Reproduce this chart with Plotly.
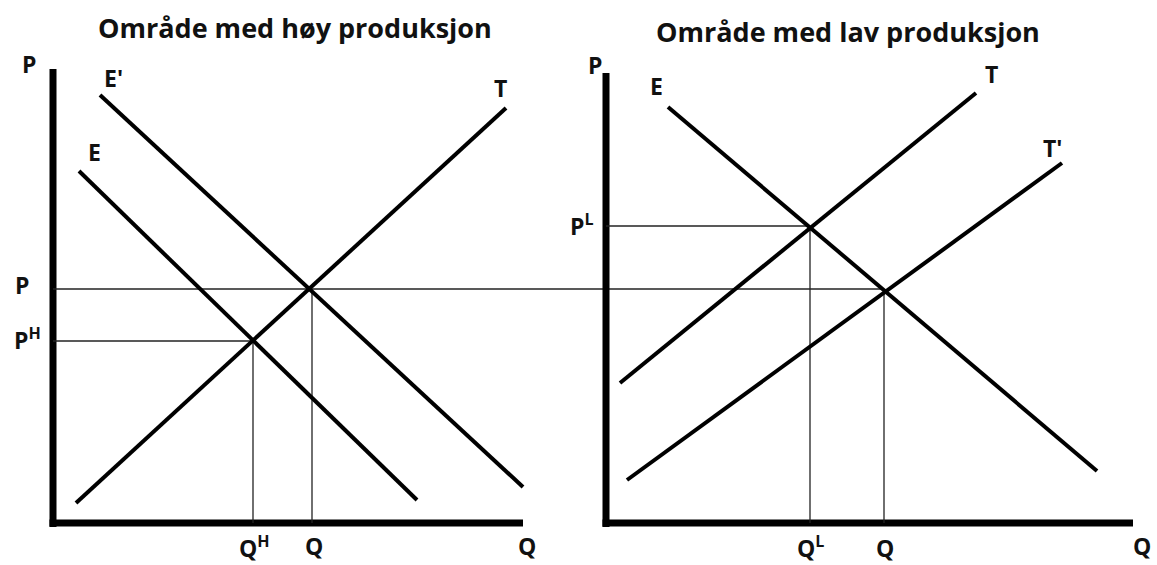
import plotly.graph_objects as go

# ---- data (units: Q and P measured from each panel's origin) ----
# Left panel: "Område med høy produksjon"
left_E_q = [26, 364]
left_E_p = [352, 23]
left_E2_q = [47, 470]        # E'
left_E2_p = [428, 36]
left_T_q = [23, 453]
left_T_p = [20, 415]
left_eq_H = (200, 182)       # (Q^H, P^H)
left_eq = (259, 234)         # (Q, P)

# Right panel: "Område med lav produksjon"
right_E_q = [62, 491]
right_E_p = [416, 52]
right_T_q = [14, 370]
right_T_p = [140, 430]
right_T2_q = [21, 456]       # T'
right_T2_p = [43, 360]
right_eq_L = (204, 297)      # (Q^L, P^L)
right_eq = (278, 234)        # (Q, P)

titles = ["Område med høy produksjon", "Område med lav produksjon"]

# layout helpers (figure pixel geometry)
W, H = 1157, 565
left_origin = (53, 523)
right_origin = (606, 523)

fig = go.Figure()

def line(q, p, width, axis="x", color="black"):
    fig.add_trace(go.Scatter(x=q, y=p, mode="lines", xaxis=axis, yaxis="y",
                             line=dict(color=color, width=width),
                             hoverinfo="skip", showlegend=False))

# axes (thick)
line([0, 0], [-4, 454], 7, "x")
line([-3.5, 470], [0, 0], 7, "x")
line([0, 0], [-4, 450], 7, "x2")
line([-3.5, 527], [0, 0], 7, "x2")

# guide lines (thin)
right_eq_in_left = right_eq[0] + (right_origin[0] - left_origin[0])
line([0, right_eq_in_left], [left_eq[1], left_eq[1]], 1.3, "x", "#222")
line([0, left_eq_H[0]], [left_eq_H[1], left_eq_H[1]], 1.3, "x", "#222")
line([left_eq_H[0], left_eq_H[0]], [0, left_eq_H[1]], 1.3, "x", "#222")
line([left_eq[0], left_eq[0]], [0, left_eq[1]], 1.3, "x", "#222")
line([0, right_eq_L[0]], [right_eq_L[1], right_eq_L[1]], 1.3, "x2", "#222")
line([right_eq_L[0], right_eq_L[0]], [0, right_eq_L[1]], 1.3, "x2", "#222")
line([right_eq[0], right_eq[0]], [0, right_eq[1]], 1.3, "x2", "#222")

# curves
line(left_E_q, left_E_p, 4, "x")
line(left_E2_q, left_E2_p, 4, "x")
line(left_T_q, left_T_p, 4, "x")
line(right_E_q, right_E_p, 4, "x2")
line(right_T_q, right_T_p, 4, "x2")
line(right_T2_q, right_T2_p, 4, "x2")

FONT = "Open Sans"
LBL = 23

def label(text, q, p, axis="x", size=LBL):
    fig.add_annotation(x=q, y=p, xref=axis, yref="y", text="<b>" + text + "</b>",
                       showarrow=False, xanchor="center", yanchor="middle",
                       font=dict(family=FONT, size=size, color="#111"))

# left labels
label("P", -24, 459)
label("E'", 60, 445)
label("E", 41, 371)
label("T", 447, 435)
label("P", -31, 238)
label("P<sup>H</sup>", -26, 184)
label("Q<sup>H</sup>", 201, -24)
label("Q", 261, -23)
label("Q", 474, -23)
# right labels
label("P", -11, 458, "x2")
label("E", 50, 437, "x2")
label("T", 385, 449, "x2")
label("T'", 446, 375, "x2")
label("P<sup>L</sup>", -24, 298, "x2")
label("Q<sup>L</sup>", 204, -24, "x2")
label("Q", 279, -25, "x2")
label("Q", 536, -23, "x2")
# titles
label(titles[0], 295 - left_origin[0], left_origin[1] - 27, "x", 27)
label(titles[1], 848 - right_origin[0], right_origin[1] - 31, "x2", 27)

ax_common = dict(visible=False, showgrid=False, zeroline=False, fixedrange=True)
fig.update_layout(
    width=W, height=H,
    margin=dict(l=0, r=0, t=0, b=0),
    paper_bgcolor="white", plot_bgcolor="white",
    xaxis=dict(range=[-left_origin[0], W - left_origin[0]], domain=[0, 1], **ax_common),
    xaxis2=dict(range=[-right_origin[0], W - right_origin[0]], domain=[0, 1],
                overlaying="x", **ax_common),
    yaxis=dict(range=[-(H - left_origin[1]), left_origin[1]], domain=[0, 1], **ax_common),
    showlegend=False,
)

fig.write_html("out.html", config={"displayModeBar": False},
               post_script="document.body.style.margin='0';document.body.style.overflow='hidden';")
